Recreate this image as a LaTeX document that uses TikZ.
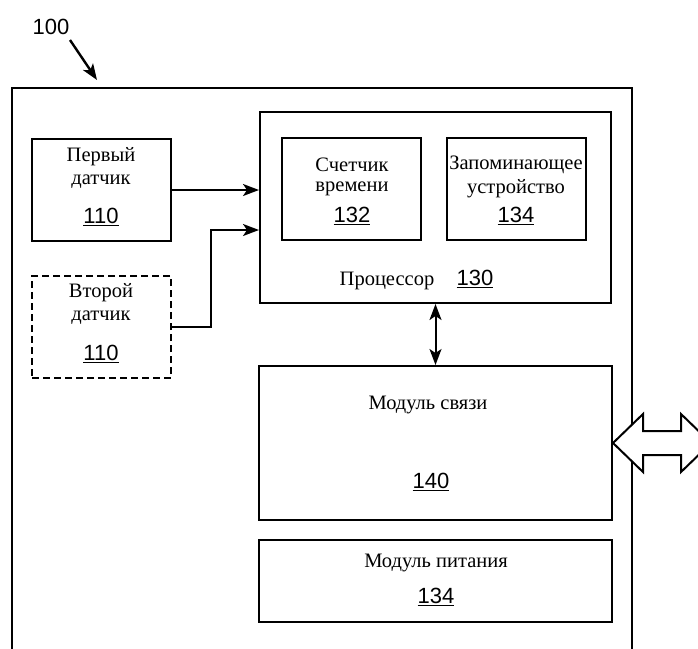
\documentclass[tikz,border=0pt]{standalone}
\usepackage{fontspec}
\setmainfont{Liberation Serif}
\newfontfamily\labelsans{Liberation Sans}
\usetikzlibrary{arrows.meta}

\newcommand{\refnum}[1]{{\labelsans\underline{#1}}}

\tikzset{
  blockbox/.style={draw, line width=2pt, inner sep=0pt},
  dashbox/.style={blockbox, dash pattern=on 7pt off 4pt},
  txt/.style={inner sep=0pt, font=\fontsize{20.5}{24}\selectfont},
  numtxt/.style={inner sep=0pt, font=\fontsize{22}{25}\labelsans},
  tip/.tip={Stealth[length=16pt,width=12pt,inset=4pt]},
  wire/.style={line width=2pt, -tip},
  biwire/.style={line width=2pt, tip-tip},
}

\begin{document}
\begin{tikzpicture}[x=1pt, y=-1pt]
  \clip (0,0) rectangle (698,648);
  \fill[white] (0,0) rectangle (698,648);

  % reference label of the whole device
  \node[numtxt] (lbl) at (51,27) {100};
  \coordinate (lbltip) at (97,80);
  \draw[wire, line width=2.4pt] (70,40) -- (lbltip);

  % device enclosure (runs past the lower edge)
  \draw[line width=2pt] (12,660) -- (12,88) -- (632,88) -- (632,660);

  % sensors
  \node[blockbox, minimum width=139pt, minimum height=102pt] (s1) at (101.5,190) {};
  \node[dashbox, minimum width=139pt, minimum height=102pt] (s2) at (101.5,327) {};
  \node[txt] (s1a) at (101,157) {Первый};
  \node[txt] (s1b) at (101,182) {датчик};
  \node[numtxt] (s1n) at (101,217) {\refnum{110}};
  \node[txt] (s2a) at (101,293) {Второй};
  \node[txt] (s2b) at (101,318) {датчик};
  \node[numtxt] (s2n) at (101,354) {\refnum{110}};

  % processor with timer and memory
  \node[blockbox, minimum width=351pt, minimum height=191pt] (proc) at (435.5,207.5) {};
  \node[blockbox, minimum width=139pt, minimum height=102pt] (tmr) at (351.5,189) {};
  \node[blockbox, minimum width=139pt, minimum height=102pt] (mem) at (516.5,189) {};
  \node[txt] (tmra) at (352,165) {Счетчик};
  \node[txt] (tmrb) at (352,189) {времени};
  \node[numtxt] (tmrn) at (352,216) {\refnum{132}};
  \node[txt] (mema) at (516,165) {Запоминающее};
  \node[txt] (memb) at (516,189) {устройство};
  \node[numtxt] (memn) at (516,216) {\refnum{134}};
  \node[txt] (proca) at (387,281) {Процессор};
  \node[numtxt] (procn) at (475,279) {\refnum{130}};

  % communication module
  \node[blockbox, minimum width=353pt, minimum height=154pt] (comm) at (435.5,443) {};
  \node[txt] (comma) at (428,405) {Модуль связи};
  \node[numtxt] (commn) at (431,482) {\refnum{140}};

  % power module
  \node[blockbox, minimum width=353pt, minimum height=82pt] (pwr) at (435.5,581) {};
  \node[txt] (pwra) at (436,563) {Модуль питания};
  \node[numtxt] (pwrn) at (436,597) {\refnum{134}};

  % signal paths
  \draw[wire] (s1.east) -- (s1.east -| proc.west);
  \coordinate (s2in) at (proc.west |- 0,230);
  \draw[wire] (s2.east) -- ++(39,0) |- (s2in);
  \draw[biwire] (proc.south) -- (comm.north);

  % external link: hollow double arrow
  \draw[line width=2pt, fill=white]
    (comm.east) -- ++(30,-29) -- ++(0,17) -- ++(38,0) -- ++(0,-17)
    -- ++(30,29) -- ++(-30,29) -- ++(0,-17) -- ++(-38,0) -- ++(0,17) -- cycle;
\end{tikzpicture}
\end{document}
